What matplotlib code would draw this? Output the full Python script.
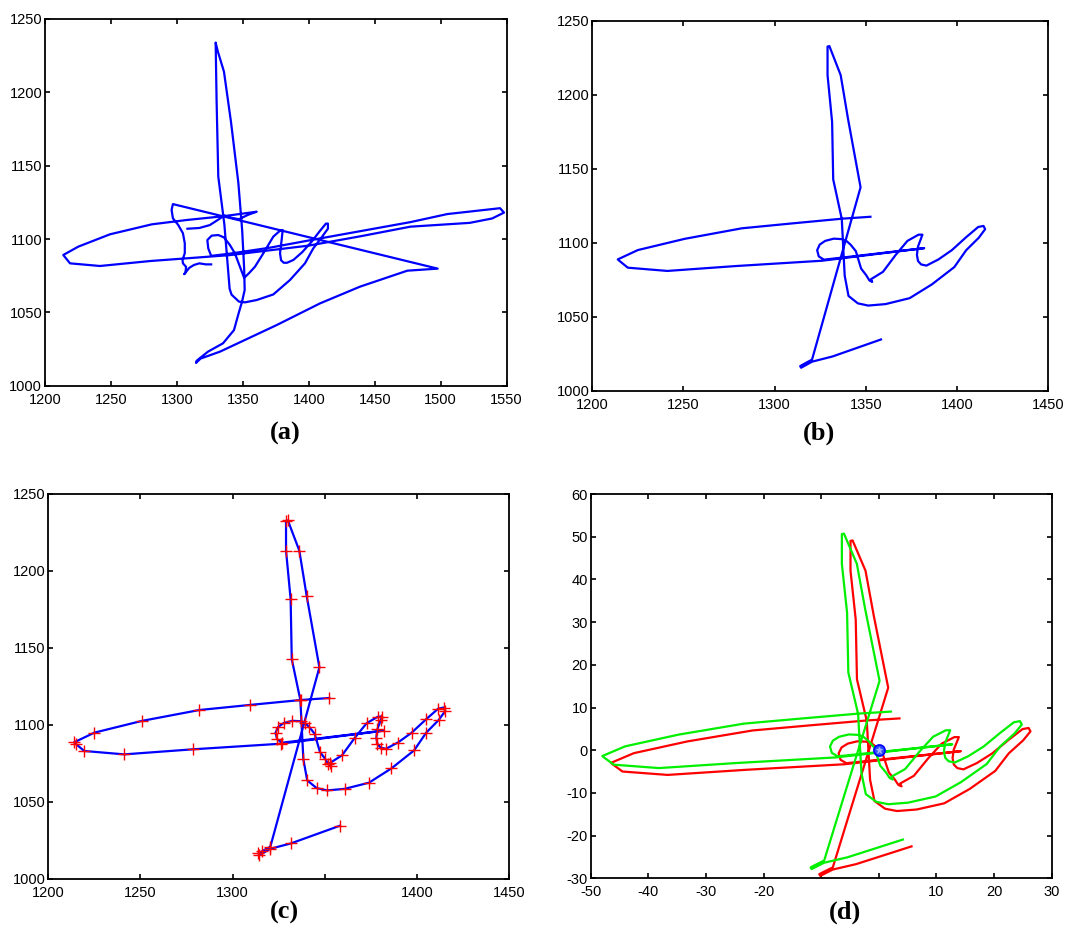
import matplotlib
matplotlib.use("Agg")
import matplotlib.pyplot as plt
import numpy as np

plt.rcParams["font.family"] = ["Liberation Sans", "DejaVu Sans"]
plt.rcParams["axes.unicode_minus"] = False

##################################################
# Data

# (a) raw pen trace, in the order it was drawn
raw_xy = np.array([
    (1308.0, 1107.0), (1317.0, 1107.5), (1325.0, 1109.5), (1331.0, 1113.0),
    (1336.0, 1116.0), (1341.0, 1114.5), (1347.0, 1113.5), (1354.0, 1116.5),
    (1360.5, 1118.6), (1335.0, 1115.5), (1307.0, 1112.9), (1281.0, 1110.0),
    (1249.3, 1103.2), (1225.3, 1094.8), (1213.9, 1089.1), (1219.0, 1083.4),
    (1241.7, 1081.6), (1280.0, 1085.0), (1340.0, 1089.0), (1400.0, 1095.5),
    (1440.0, 1102.0), (1477.0, 1108.4), (1522.0, 1111.0), (1539.0, 1114.0),
    (1548.0, 1118.0), (1545.0, 1121.0), (1530.0, 1119.5), (1505.0, 1117.0),
    (1477.0, 1111.5), (1440.0, 1105.5), (1400.0, 1099.0), (1370.0, 1094.0),
    (1340.0, 1090.0), (1326.0, 1088.5), (1323.8, 1093.6), (1323.1, 1099.3),
    (1326.4, 1102.3), (1331.4, 1102.7), (1335.7, 1101.1), (1340.2, 1095.9),
    (1344.0, 1090.2), (1347.8, 1081.1), (1351.0, 1073.5), (1355.0, 1077.0),
    (1359.2, 1081.1), (1365.5, 1090.2), (1373.1, 1101.6), (1378.0, 1105.5),
    (1380.2, 1106.1), (1379.5, 1100.0), (1378.2, 1090.2), (1379.0, 1085.5),
    (1381.0, 1083.8), (1383.5, 1083.8), (1388.3, 1085.7), (1395.0, 1091.0),
    (1402.0, 1098.0), (1408.0, 1105.0), (1413.0, 1110.5), (1414.5, 1110.5),
    (1414.5, 1107.0), (1409.7, 1101.1), (1403.4, 1093.6), (1397.1, 1083.4),
    (1385.7, 1072.0), (1373.1, 1062.2), (1360.5, 1058.4), (1351.6, 1056.8),
    (1347.1, 1057.3), (1341.5, 1062.0), (1340.0, 1066.0), (1336.0, 1110.0),
    (1331.4, 1142.5), (1330.1, 1194.8), (1329.4, 1233.9), (1331.0, 1228.0),
    (1335.7, 1214.1), (1341.0, 1180.0), (1346.6, 1138.4), (1349.5, 1106.0),
    (1351.0, 1080.0), (1351.4, 1065.2), (1349.4, 1057.3), (1346.8, 1049.3),
    (1343.3, 1037.9), (1335.0, 1028.9), (1323.6, 1023.2), (1315.0, 1017.0),
    (1314.5, 1015.5), (1318.0, 1018.5), (1332.7, 1023.2), (1375.6, 1041.3),
    (1408.5, 1056.1), (1438.8, 1067.5), (1474.7, 1078.4), (1497.7, 1079.8),
    (1297.0, 1123.8), (1296.0, 1119.8), (1297.0, 1114.1), (1301.0, 1109.6),
    (1304.6, 1103.9), (1306.0, 1097.1), (1306.0, 1090.3), (1304.3, 1085.7),
    (1304.6, 1083.4), (1307.0, 1081.0), (1306.5, 1077.0), (1305.5, 1076.0),
    (1309.5, 1080.4), (1313.0, 1082.3), (1317.0, 1083.4), (1322.0, 1082.7),
    (1326.0, 1082.7),
])

# (b), (c) cleaned signature samples
sig_xy = np.array([
    (1352.5, 1117.5), (1337.0, 1116.2), (1309.5, 1113.0), (1282.0, 1109.7),
    (1250.7, 1102.6), (1225.0, 1095.0), (1214.0, 1088.7), (1215.0, 1087.6),
    (1219.5, 1083.1), (1241.2, 1080.9), (1278.7, 1084.2), (1326.0, 1087.8),
    (1382.0, 1096.3), (1327.0, 1088.5), (1324.2, 1090.7), (1323.3, 1094.9),
    (1324.7, 1098.7), (1327.7, 1101.2), (1332.4, 1102.7), (1336.9, 1102.4),
    (1339.3, 1101.2), (1341.6, 1098.7), (1344.5, 1094.3), (1347.4, 1082.5),
    (1350.2, 1078.0), (1352.0, 1074.4), (1353.5, 1073.5), (1352.8, 1075.3),
    (1359.4, 1080.3), (1366.4, 1091.8), (1372.8, 1101.2), (1378.9, 1105.4),
    (1381.0, 1105.4), (1380.3, 1103.0), (1378.6, 1097.4), (1378.0, 1091.8),
    (1378.6, 1087.6), (1380.3, 1085.3), (1383.2, 1084.5), (1389.7, 1088.6),
    (1397.1, 1094.9), (1405.0, 1103.7), (1411.6, 1110.6), (1414.5, 1111.3),
    (1415.4, 1109.1), (1411.9, 1103.3), (1405.0, 1094.9), (1398.5, 1083.5),
    (1386.2, 1071.8), (1374.0, 1062.5), (1360.8, 1058.5), (1351.3, 1057.5),
    (1345.6, 1059.0), (1340.5, 1064.0), (1338.4, 1077.7), (1336.8, 1116.0),
    (1332.1, 1142.8), (1331.5, 1181.6), (1329.0, 1213.2), (1329.0, 1232.5),
    (1330.0, 1232.8), (1336.2, 1213.2), (1340.2, 1183.8), (1347.1, 1137.4),
    (1320.5, 1021.0), (1316.0, 1018.0), (1314.0, 1016.6), (1314.5, 1015.5),
    (1320.5, 1019.6), (1331.7, 1023.1), (1358.3, 1034.6),
])

# (d) the red trace is the signature moved to its centre and scaled;
# the green one sits slightly up and to the left of it
centre_xy = (1342.6, 1096.9)
norm_scale = 0.3615
green_shift = (-1.5, 1.6)

# axis ticks per panel
ticks_ab_x = [1200, 1250, 1300, 1350, 1400, 1450, 1500, 1550]
ticks_bc_x = [1200, 1250, 1300, 1350, 1400, 1450]
ticks_sig_y = [1000, 1050, 1100, 1150, 1200, 1250]
ticks_d_x = [-50, -40, -30, -20, -10, 0, 10, 20, 30]
ticks_d_y = [-30, -20, -10, 0, 10, 20, 30, 40, 50, 60]

red_xy = (sig_xy - np.array(centre_xy)) * norm_scale
green_xy = red_xy + np.array(green_shift)


##################################################
# Plot
def matlab_axes(ax, xticks, yticks, xlabels=None):
    ax.set_xlim(xticks[0], xticks[-1])
    ax.set_ylim(yticks[0], yticks[-1])
    ax.set_xticks(xticks)
    ax.set_yticks(yticks)
    if xlabels is not None:
        ax.set_xticklabels(xlabels)
    ax.tick_params(direction="in", top=True, right=True, length=3.5,
                   width=1.2, labelsize=10.5)
    ax.tick_params(axis="x", pad=5)
    ax.tick_params(axis="y", pad=2)
    for sp in ax.spines.values():
        sp.set_linewidth(1.3)


fig = plt.figure(figsize=(10.78, 9.26), dpi=100)
caption = dict(ha="center", va="center", fontsize=19, weight="bold",
               family=["Liberation Serif", "DejaVu Serif"])
lw = 1.6

ax = fig.add_axes([0.0417, 0.5835, 0.4283, 0.3960])
ax.plot(raw_xy[:, 0], raw_xy[:, 1], color="#0000ff", lw=lw)
matlab_axes(ax, ticks_ab_x, ticks_sig_y)
fig.text(0.2648, 0.5324, "(a)", **caption)

ax = fig.add_axes([0.5494, 0.5781, 0.4230, 0.3996])
ax.plot(sig_xy[:, 0], sig_xy[:, 1], color="#0000ff", lw=lw)
matlab_axes(ax, ticks_bc_x, ticks_sig_y)
fig.text(0.7597, 0.5324, "(b)", **caption)

ax = fig.add_axes([0.0448, 0.0508, 0.4274, 0.4158])
ax.plot(sig_xy[:, 0], sig_xy[:, 1], color="#0000ff", lw=lw)
ax.plot(sig_xy[:, 0], sig_xy[:, 1], "+", color="#ff0000", ms=8, mew=1.0)
matlab_axes(ax, ticks_bc_x, ticks_sig_y,
            xlabels=["" if t == 1350 else str(t) for t in ticks_bc_x])
fig.text(0.2635, 0.0151, "(c)", **caption)

ax = fig.add_axes([0.5480, 0.0515, 0.4276, 0.4150])
ax.plot(red_xy[:, 0], red_xy[:, 1], color="#ff0000", lw=lw)
ax.plot(green_xy[:, 0], green_xy[:, 1], color="#00f000", lw=lw)
ax.plot(0, 0, "o", mec="#0000ff", mfc="#3050ff", ms=8, mew=1.2)
ax.plot(0, 0, "*", color="#a8b8ff", ms=5, mew=0.6)
matlab_axes(ax, ticks_d_x, ticks_d_y,
            xlabels=["" if t in (-10, 0) else str(t) for t in ticks_d_x])
fig.text(0.7839, 0.0151, "(d)", **caption)

fig.savefig("out.png", dpi=100)
